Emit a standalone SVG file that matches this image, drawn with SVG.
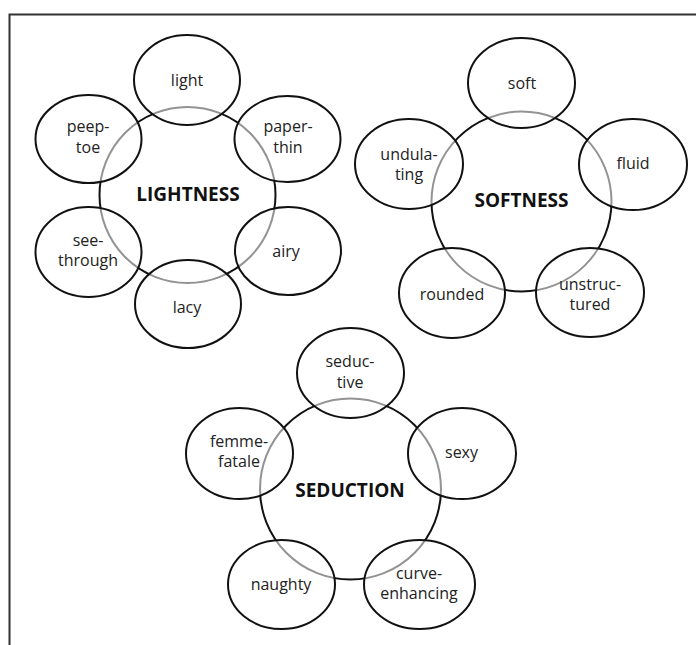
<svg xmlns="http://www.w3.org/2000/svg" width="696" height="645" viewBox="0 0 696 645">
<style>
.hub{fill:none;stroke:#111;stroke-width:2}
.leaf{fill:#fff;fill-opacity:0.55;stroke:#111;stroke-width:2}
.t{font-family:"Open Sans","Liberation Sans",sans-serif;font-size:16px;fill:#222;text-anchor:middle}
.h{font-family:"Open Sans","Liberation Sans",sans-serif;font-size:19px;font-weight:bold;fill:#111;text-anchor:middle}
</style>
<rect width="696" height="645" fill="#fff"/>
<path d="M9.5 645 V14.5 H696" fill="none" stroke="#333" stroke-width="2"/>
<g id="connectors"></g>
<g id="lightness">
<circle class="hub" cx="187.5" cy="195" r="88"/>
<text class="h" x="188" y="201">LIGHTNESS</text>
</g>
<g id="light"><ellipse class="leaf" cx="187" cy="80" rx="53" ry="45"/><text class="t" x="187" y="86">light</text></g>
<g id="peep-toe"><ellipse class="leaf" cx="88.5" cy="139" rx="53" ry="44"/><text class="t" x="88" y="132">peep-</text><text class="t" x="88" y="153">toe</text></g>
<g id="paper-thin"><ellipse class="leaf" cx="287.5" cy="139" rx="53" ry="43"/><text class="t" x="288" y="132">paper-</text><text class="t" x="288" y="153">thin</text></g>
<g id="see-through"><ellipse class="leaf" cx="88.5" cy="252" rx="53" ry="45"/><text class="t" x="88" y="246">see-</text><text class="t" x="88" y="266">through</text></g>
<g id="airy"><ellipse class="leaf" cx="288" cy="251" rx="53" ry="44"/><text class="t" x="286" y="257">airy</text></g>
<g id="lacy"><ellipse class="leaf" cx="188" cy="304" rx="53" ry="44"/><text class="t" x="187" y="313">lacy</text></g>

<g id="softness">
<circle class="hub" cx="521.5" cy="201.5" r="90"/>
<text class="h" x="521.5" y="207">SOFTNESS</text>
</g>
<g id="soft"><ellipse class="leaf" cx="521.5" cy="83" rx="53.5" ry="45"/><text class="t" x="522" y="89">soft</text></g>
<g id="undulating"><ellipse class="leaf" cx="409" cy="164" rx="54" ry="45"/><text class="t" x="409" y="160">undula-</text><text class="t" x="409" y="180">ting</text></g>
<g id="fluid"><ellipse class="leaf" cx="633" cy="164.5" rx="54" ry="45.5"/><text class="t" x="633" y="169">fluid</text></g>
<g id="rounded"><ellipse class="leaf" cx="452" cy="293" rx="53" ry="45"/><text class="t" x="452" y="300">rounded</text></g>
<g id="unstructured"><ellipse class="leaf" cx="590" cy="292.5" rx="54" ry="44.5"/><text class="t" x="590" y="290">unstruc-</text><text class="t" x="590" y="310">tured</text></g>

<g id="seduction">
<circle class="hub" cx="350.5" cy="489" r="90.5"/>
<text class="h" x="350" y="497">SEDUCTION</text>
</g>
<g id="seductive"><ellipse class="leaf" cx="350.5" cy="373" rx="53.5" ry="45"/><text class="t" x="350" y="367">seduc-</text><text class="t" x="350" y="388">tive</text></g>
<g id="femme-fatale"><ellipse class="leaf" cx="239.5" cy="453.5" rx="53.5" ry="45.5"/><text class="t" x="239" y="447">femme-</text><text class="t" x="239" y="467">fatale</text></g>
<g id="sexy"><ellipse class="leaf" cx="462" cy="453.5" rx="54" ry="45.5"/><text class="t" x="461.5" y="458">sexy</text></g>
<g id="naughty"><ellipse class="leaf" cx="281.5" cy="584.5" rx="53.5" ry="44.5"/><text class="t" x="281" y="590">naughty</text></g>
<g id="curve-enhancing"><ellipse class="leaf" cx="419.5" cy="584.5" rx="55.5" ry="44.5"/><text class="t" x="419" y="579">curve-</text><text class="t" x="419" y="599">enhancing</text></g>
</svg>
